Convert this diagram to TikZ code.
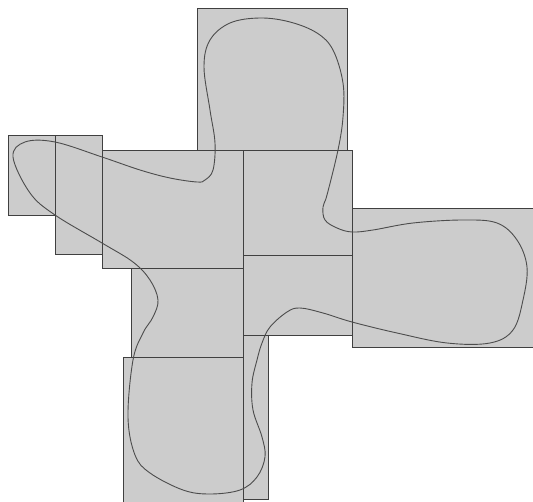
\documentclass[tikz,border=0pt]{standalone}
\begin{document}
\begin{tikzpicture}[x=1pt,y=-1pt,
  cell/.style={fill=black!20,draw=black!75,line width=0.7pt},
  loopcurve/.style={draw=black!70,line width=0.9pt}]
\useasboundingbox (0,0) rectangle (533,502);
\path[cell] (197,8) rectangle (347,150);
\path[cell] (8,135) rectangle (55,215);
\path[cell] (55,135) rectangle (102,254);
\path[cell] (102,150) rectangle (243,268);
\path[cell] (243,150) rectangle (352,255);
\path[cell] (243,255) rectangle (352,335);
\path[cell] (352,208) rectangle (533,347);
\path[cell] (131,268) rectangle (243,357);
\path[cell] (123,357) rectangle (243,502);
\path[cell] (243,335) rectangle (268,499);
\draw[loopcurve] plot[smooth cycle, tension=0.6] coordinates {
(13,157) (30,193) (55,215) (102,243) (133,262) (150,280) (158,300) (153,317)
(143,333) (133,360) (128,417) (135,455) (150,473) (183,490) (210,494) (240,490)
(257,477) (265,457) (262,437) (253,410) (252,383) (257,360) (262,343) (270,327)
(287,312) (300,308) (323,313) (352,322) (397,333) (447,343) (490,343) (513,330)
(523,300) (527,267) (517,240) (497,223) (463,220) (413,223) (373,230) (352,232)
(337,228) (325,220) (323,207) (327,195) (338,150) (343,117) (343,83) (333,50)
(317,33) (290,22) (260,18) (230,23) (210,40) (204,67) (210,110) (215,143)
(213,170) (205,180) (197,182) (170,178) (140,170) (102,157) (55,142) (25,142)};
\end{tikzpicture}
\end{document}
